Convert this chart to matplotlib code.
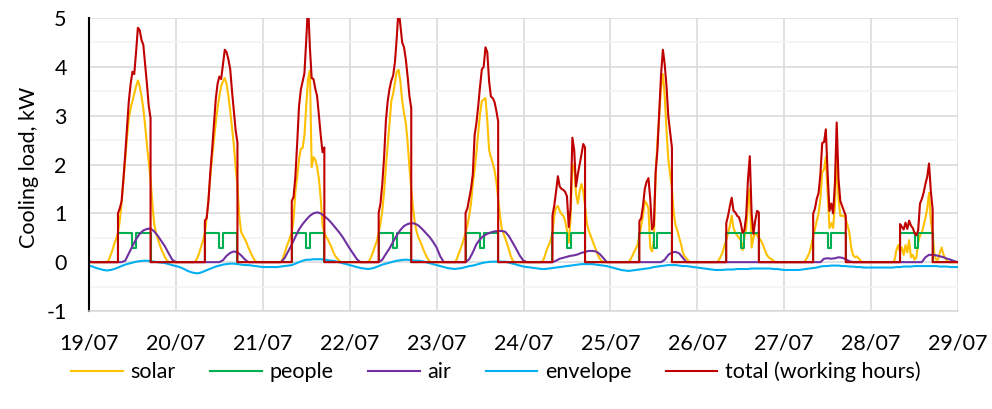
import numpy as np
import matplotlib
matplotlib.use("Agg")
import matplotlib.pyplot as plt
from matplotlib.ticker import MultipleLocator

# ---------------- data ----------------
DATES = ["19/07", "20/07", "21/07", "22/07", "23/07", "24/07",
         "25/07", "26/07", "27/07", "28/07", "29/07"]
NAMES = ["solar", "people", "air", "envelope", "total (working hours)"]

# solar load, kW, every 30 min from 05:00 to 22:00 of each day
SOLAR_19 = [0, 0.05, 0.15, 0.25, 0.38, 0.48, 0.6, 0.85, 1.2, 1.65, 2.1, 2.55, 2.95, 3.15, 3.3, 3.45, 3.6, 3.72,
            3.6, 3.4, 3.15, 2.8, 2.4, 2.05, 1.7, 1.2, 0.78, 0.6, 0.48, 0.36, 0.26, 0.18, 0.1, 0.04, 0]
SOLAR_20 = [0, 0.03, 0.1, 0.2, 0.33, 0.45, 0.6, 0.9, 1.3, 1.75, 2.15, 2.5, 2.85, 3.15, 3.4, 3.6, 3.7, 3.77,
            3.65, 3.4, 3.1, 2.75, 2.4, 1.95, 1.55, 0.95, 0.62, 0.55, 0.48, 0.4, 0.3, 0.22, 0.14, 0.07, 0.02]
SOLAR_21 = [0, 0.07, 0.18, 0.3, 0.4, 0.5, 0.6, 0.88, 1.45, 1.75, 2.1, 2.32, 2.34, 2.6, 3.2, 3.75, 3.92, 1.95,
            2.15, 2.1, 1.95, 1.7, 1.3, 0.75, 0.6, 0.52, 0.46, 0.38, 0.3, 0.2, 0.13, 0.08, 0.04, 0.01, 0]
SOLAR_22 = [0, 0.04, 0.12, 0.22, 0.33, 0.43, 0.6, 0.8, 1.05, 1.45, 1.95, 2.4, 2.85, 3.3, 3.45, 3.67, 3.9, 3.94,
            3.7, 3.3, 3.05, 2.85, 2.45, 1.95, 1.5, 1.1, 0.8, 0.62, 0.5, 0.42, 0.33, 0.23, 0.15, 0.08, 0.02]
SOLAR_23 = [0, 0.05, 0.15, 0.25, 0.35, 0.47, 0.6, 0.75, 0.95, 1.2, 1.6, 1.9, 2.25, 2.65, 3.05, 3.3, 3.33, 3.36,
            2.9, 2.3, 2.15, 2.03, 1.88, 1.65, 1.3, 0.95, 0.68, 0.58, 0.48, 0.37, 0.25, 0.12, 0.04, 0, 0]
SOLAR_24 = [0, 0.05, 0.15, 0.27, 0.35, 0.45, 0.6, 0.95, 1.12, 1.15, 1.05, 0.98, 0.95, 0.85, 0.65, 0.4, 0.9, 2.0,
            1.95, 1.4, 1.2, 1.45, 1.6, 1.45, 1.15, 0.8, 0.65, 0.55, 0.45, 0.35, 0.25, 0.15, 0.08, 0.03, 0]
SOLAR_25 = [0, 0.05, 0.12, 0.2, 0.28, 0.35, 0.55, 0.75, 0.95, 1.25, 1.2, 1.1, 0.3, 0.22, 0.45, 1.8, 2.5, 3.0,
            3.6, 3.85, 3.4, 2.7, 2.1, 1.8, 1.5, 1.0, 0.75, 0.65, 0.5, 0.37, 0.2, 0.12, 0.08, 0.03, 0]
SOLAR_26 = [0, 0, 0.05, 0.12, 0.2, 0.35, 0.45, 0.6, 0.75, 0.95, 0.7, 0.6, 0.55, 0.5, 0.45, 0.25, 0.5, 0.7,
            1.2, 1.5, 0.3, 0.5, 0.6, 0.55, 0.5, 0.45, 0.38, 0.28, 0.18, 0.12, 0.08, 0.06, 0.03, 0, 0]
SOLAR_27 = [0, 0, 0.05, 0.12, 0.2, 0.35, 0.52, 0.7, 0.85, 1.0, 1.3, 1.85, 1.9, 2.15, 1.4, 0.7, 0.8, 0.7,
            1.15, 2.2, 1.3, 0.95, 0.95, 0.95, 0.88, 0.75, 0.6, 0.3, 0.15, 0.1, 0.12, 0.08, 0.04, 0, 0]
SOLAR_28 = [0, 0, 0, 0.05, 0.25, 0.35, 0.2, 0.3, 0.15, 0.35, 0.2, 0.45, 0.1, 0.15, 0.05, 0.1, 0.4, 0.55,
            0.6, 0.75, 0.9, 1.1, 1.42, 0.85, 0.55, 0.15, 0.05, 0.05, 0.2, 0.3, 0.15, 0.08, 0.02, 0, 0]

# total load during working hours, kW, every 30 min from 08:00 to 17:00
TOTAL_19 = [1.0, 1.1, 1.25, 1.7, 2.2, 2.75, 3.3, 3.65, 3.9, 3.85, 4.3, 4.8, 4.75, 4.55, 4.45, 4.05, 3.65, 3.2, 2.95]
TOTAL_20 = [0.85, 0.9, 1.27, 1.84, 2.3, 2.82, 3.33, 3.65, 3.8, 3.75, 4.05, 4.35, 4.3, 4.15, 3.95, 3.5, 3.1, 2.7, 2.45]
TOTAL_21 = [1.25, 1.34, 1.76, 2.44, 3.19, 3.53, 3.7, 3.87, 4.55, 5.3, 4.4, 3.77, 3.75, 3.55, 3.4, 3.0, 2.6, 2.25, 2.35]
TOTAL_22 = [1.01, 1.2, 1.6, 2.15, 2.9, 3.3, 3.55, 3.72, 3.82, 4.1, 4.6, 5.2, 4.85, 4.5, 4.4, 4.15, 3.8, 3.4, 3.15]
TOTAL_23 = [1.01, 1.1, 1.3, 1.5, 1.8, 2.6, 2.85, 3.2, 3.6, 3.95, 4.0, 4.4, 4.3, 3.7, 3.39, 3.36, 3.28, 3.1, 2.88]
TOTAL_24 = [0.95, 1.16, 1.45, 1.76, 1.55, 1.5, 1.48, 1.44, 1.35, 0.72, 1.1, 2.55, 2.3, 1.55, 1.8, 2.0, 2.2, 2.42, 2.35]
TOTAL_25 = [0.84, 0.9, 1.15, 1.5, 1.65, 1.72, 1.3, 0.67, 0.75, 1.85, 2.3, 3.1, 3.85, 4.35, 4.05, 3.6, 2.98, 2.65, 2.34]
TOTAL_26 = [0.8, 0.95, 1.15, 1.32, 1.05, 1.02, 0.95, 0.92, 0.8, 0.6, 0.65, 0.95, 1.7, 2.17, 1.0, 0.58, 0.85, 1.05, 1.02]
TOTAL_27 = [0.99, 1.1, 1.3, 1.42, 1.8, 2.44, 2.46, 2.72, 1.8, 1.05, 1.2, 1.0, 1.6, 2.86, 1.7, 1.25, 1.15, 1.05, 0.95]
TOTAL_28 = [0.78, 0.72, 0.67, 0.81, 0.68, 0.85, 0.75, 0.7, 0.6, 0.55, 0.65, 1.2, 1.29, 1.42, 1.6, 1.75, 2.02, 1.45, 1.08]

# people load, kW, hourly from 08:00 to 16:00 (step values)
PEOPLE_19 = [0.6, 0.6, 0.6, 0.6, 0.3, 0.6, 0.6, 0.6, 0.6]
PEOPLE_20 = [0.6, 0.6, 0.6, 0.6, 0.3, 0.6, 0.6, 0.6, 0.6]
PEOPLE_21 = [0.6, 0.6, 0.6, 0.6, 0.3, 0.6, 0.6, 0.6, 0.6]
PEOPLE_22 = [0.6, 0.6, 0.6, 0.6, 0.3, 0.6, 0.6, 0.6, 0.6]
PEOPLE_23 = [0.6, 0.6, 0.6, 0.6, 0.3, 0.6, 0.6, 0.6, 0.6]
PEOPLE_24 = [0.6, 0.6, 0.6, 0.6, 0.3, 0.6, 0.6, 0.6, 0.6]
PEOPLE_25 = [0.6, 0.6, 0.6, 0.6, 0.3, 0.6, 0.6, 0.6, 0.6]
PEOPLE_26 = [0.6, 0.6, 0.6, 0.6, 0.3, 0.6, 0.6, 0.6, 0.6]
PEOPLE_27 = [0.6, 0.6, 0.6, 0.6, 0.3, 0.6, 0.6, 0.6, 0.6]
PEOPLE_28 = [0.6, 0.6, 0.6, 0.6, 0.3, 0.6, 0.6, 0.6, 0.6]

# air load, kW, hourly 00:00..23:00
AIR_19 = [0.02, 0, 0, 0, 0, 0, 0, 0, 0, 0, 0.03, 0.18, 0.33, 0.47, 0.58, 0.65, 0.68, 0.69, 0.63, 0.54, 0.43, 0.32, 0.18, 0.05]
AIR_20 = [0, 0, 0, 0, 0, 0, 0, 0, 0, 0, 0, 0, 0, 0.04, 0.13, 0.19, 0.22, 0.2, 0.14, 0.06, 0, 0, 0, 0]
AIR_21 = [0, 0, 0, 0, 0, 0, 0.08, 0.22, 0.36, 0.52, 0.67, 0.78, 0.87, 0.95, 1.0, 1.02, 1.0, 0.94, 0.88, 0.8, 0.71, 0.62, 0.52, 0.4]
AIR_22 = [0.28, 0.17, 0.06, 0, 0, 0, 0, 0, 0, 0.05, 0.17, 0.28, 0.42, 0.55, 0.66, 0.74, 0.78, 0.8, 0.79, 0.75, 0.68, 0.6, 0.52, 0.42]
AIR_23 = [0.3, 0.12, 0, 0, 0, 0, 0, 0, 0, 0.06, 0.2, 0.37, 0.47, 0.54, 0.58, 0.61, 0.63, 0.64, 0.64, 0.62, 0.53, 0.4, 0.27, 0.13]
AIR_24 = [0.03, 0, 0, 0, 0, 0, 0, 0, 0, 0.03, 0.07, 0.09, 0.11, 0.13, 0.14, 0.16, 0.19, 0.21, 0.23, 0.23, 0.22, 0.17, 0.09, 0]
AIR_25 = [0, 0, 0, 0, 0, 0, 0, 0, 0, 0, 0, 0, 0, 0, 0, 0.05, 0.15, 0.2, 0.21, 0.18, 0.09, 0, 0, 0]
AIR_26 = [0, 0, 0, 0, 0, 0, 0, 0, 0, 0, 0, 0, 0, 0, 0, 0, 0, 0, 0, 0, 0, 0, 0, 0]
AIR_27 = [0, 0, 0, 0, 0, 0, 0, 0, 0, 0, 0, 0.07, 0.08, 0.07, 0.08, 0.1, 0.09, 0.06, 0.02, 0, 0, 0, 0, 0]
AIR_28 = [0, 0, 0, 0, 0, 0, 0, 0, 0, 0, 0, 0, 0, 0, 0, 0.1, 0.15, 0.15, 0.14, 0.12, 0.1, 0.07, 0.05, 0.02, 0]

# envelope load, kW, hourly 00:00..23:00
ENV_19 = [-0.07, -0.09, -0.12, -0.14, -0.16, -0.17, -0.16, -0.14, -0.11, -0.08, -0.05, -0.03, -0.01, 0.01, 0.02, 0.03, 0.03, 0.02, 0.01, 0.0, -0.01, -0.02, -0.04, -0.06]
ENV_20 = [-0.08, -0.1, -0.13, -0.17, -0.2, -0.22, -0.23, -0.21, -0.18, -0.15, -0.12, -0.09, -0.07, -0.05, -0.04, -0.03, -0.03, -0.04, -0.05, -0.06, -0.06, -0.07, -0.08, -0.09]
ENV_21 = [-0.1, -0.1, -0.1, -0.1, -0.1, -0.09, -0.08, -0.07, -0.06, -0.03, 0.0, 0.03, 0.05, 0.05, 0.06, 0.06, 0.06, 0.05, 0.04, 0.03, 0.02, 0.0, -0.02, -0.04]
ENV_22 = [-0.06, -0.08, -0.1, -0.12, -0.13, -0.14, -0.13, -0.11, -0.08, -0.05, -0.03, -0.01, 0.01, 0.03, 0.04, 0.05, 0.05, 0.04, 0.03, 0.03, 0.02, 0.0, -0.02, -0.04]
ENV_23 = [-0.06, -0.08, -0.1, -0.12, -0.13, -0.14, -0.13, -0.12, -0.1, -0.08, -0.07, -0.05, -0.03, -0.01, 0.0, 0.01, 0.01, 0.01, 0.01, 0.01, -0.01, -0.03, -0.05, -0.07]
ENV_24 = [-0.09, -0.1, -0.11, -0.12, -0.13, -0.14, -0.14, -0.13, -0.12, -0.11, -0.1, -0.09, -0.08, -0.07, -0.06, -0.05, -0.04, -0.04, -0.04, -0.04, -0.05, -0.06, -0.07, -0.08]
ENV_25 = [-0.1, -0.12, -0.14, -0.16, -0.17, -0.18, -0.17, -0.16, -0.15, -0.14, -0.13, -0.12, -0.1, -0.09, -0.08, -0.07, -0.06, -0.06, -0.06, -0.07, -0.08, -0.08, -0.09, -0.1]
ENV_26 = [-0.11, -0.12, -0.13, -0.14, -0.15, -0.16, -0.16, -0.16, -0.15, -0.15, -0.15, -0.14, -0.14, -0.14, -0.14, -0.13, -0.13, -0.13, -0.13, -0.13, -0.13, -0.14, -0.14, -0.15]
ENV_27 = [-0.16, -0.16, -0.16, -0.16, -0.16, -0.15, -0.14, -0.13, -0.12, -0.11, -0.09, -0.08, -0.08, -0.07, -0.07, -0.07, -0.08, -0.08, -0.09, -0.09, -0.1, -0.1, -0.11, -0.11]
ENV_28 = [-0.11, -0.11, -0.11, -0.11, -0.11, -0.11, -0.11, -0.1, -0.1, -0.09, -0.09, -0.09, -0.08, -0.08, -0.08, -0.08, -0.08, -0.08, -0.08, -0.09, -0.09, -0.09, -0.1, -0.1, -0.1]

COLORS = ["#FFC000", "#00B050", "#7030A0", "#00B0F0", "#C00000"]

# ---------------- assemble series on a time axis (hours from 19/07 00:00) ----------------
n_days = len(DATES) - 1
solar_days = [SOLAR_19, SOLAR_20, SOLAR_21, SOLAR_22, SOLAR_23, SOLAR_24, SOLAR_25, SOLAR_26, SOLAR_27, SOLAR_28]
total_days = [TOTAL_19, TOTAL_20, TOTAL_21, TOTAL_22, TOTAL_23, TOTAL_24, TOTAL_25, TOTAL_26, TOTAL_27, TOTAL_28]
people_days = [PEOPLE_19, PEOPLE_20, PEOPLE_21, PEOPLE_22, PEOPLE_23, PEOPLE_24, PEOPLE_25, PEOPLE_26, PEOPLE_27, PEOPLE_28]
air_days = [AIR_19, AIR_20, AIR_21, AIR_22, AIR_23, AIR_24, AIR_25, AIR_26, AIR_27, AIR_28]
env_days = [ENV_19, ENV_20, ENV_21, ENV_22, ENV_23, ENV_24, ENV_25, ENV_26, ENV_27, ENV_28]

t_half = np.arange(0, 24 * n_days + 0.25, 0.5)
solar = np.zeros_like(t_half)
for d, vals in enumerate(solar_days):
    i0 = d * 48 + 10
    solar[i0:i0 + len(vals)] = vals

t_hour = np.arange(0, 24 * n_days + 1, 1.0)
people = np.zeros_like(t_hour)
for d, vals in enumerate(people_days):
    people[d * 24 + 8:d * 24 + 8 + len(vals)] = vals
air = np.concatenate(air_days)
env = np.concatenate(env_days)

tt, vv = [0.0], [0.0]
for d, vals in enumerate(total_days):
    start = d * 24 + 8
    tt.append(start); vv.append(0.0)
    for k, v in enumerate(vals):
        tt.append(start + 0.5 * k); vv.append(v)
    tt.append(start + 0.5 * (len(vals) - 1)); vv.append(0.0)
tt.append(24 * n_days); vv.append(0.0)

# ---------------- plot ----------------
plt.rcParams["font.family"] = ["Lato", "DejaVu Sans"]
plt.rcParams["axes.unicode_minus"] = False

fig = plt.figure(figsize=(9.92, 4.09), dpi=100)
ax = fig.add_axes([89 / 992, 1 - 311 / 409, (958 - 89) / 992, (311 - 18) / 409])

lw = 1.5
ax.plot(t_half, solar, color=COLORS[0], lw=lw, label=NAMES[0])
ax.plot(t_hour, people, color=COLORS[1], lw=lw, drawstyle="steps-post", label=NAMES[1])
ax.plot(t_hour[:len(air)], air, color=COLORS[2], lw=lw, label=NAMES[2])
ax.plot(t_hour[:len(env)], env, color=COLORS[3], lw=lw, label=NAMES[3])
ax.plot(tt, vv, color=COLORS[4], lw=lw, label=NAMES[4])

ax.set_xlim(0, 24 * n_days)
ax.set_ylim(-1, 5)
ax.set_xticks(np.arange(0, 24 * n_days + 1, 24))
ax.set_xticklabels(DATES)
ax.yaxis.set_major_locator(MultipleLocator(1))
ax.yaxis.set_minor_locator(MultipleLocator(0.5))
ax.grid(which="major", color="#D9D9D9", lw=1.1)
ax.grid(which="minor", axis="y", color="#F2F2F2", lw=1.1)
ax.set_axisbelow(True)
for s in ["top", "right"]:
    ax.spines[s].set_visible(False)
ax.spines["left"].set_color("black")
ax.spines["left"].set_linewidth(1.5)
ax.spines["bottom"].set_color("#D9D9D9")
ax.spines["bottom"].set_linewidth(1.1)
ax.tick_params(axis="both", which="both", length=0, labelsize=15.5, colors="black")
ax.tick_params(axis="x", pad=16)
ax.tick_params(axis="y", pad=16)
ax.set_ylabel("Cooling load, kW", fontsize=15.5)
ax.yaxis.set_label_coords(-0.058, 0.49)

fig.legend(loc="center", bbox_to_anchor=(0.5, 1 - 372 / 409), ncol=5, frameon=False,
           fontsize=15.5, handlelength=2.4, handletextpad=0.35, columnspacing=1.6)

fig.savefig("out.png", dpi=100)
